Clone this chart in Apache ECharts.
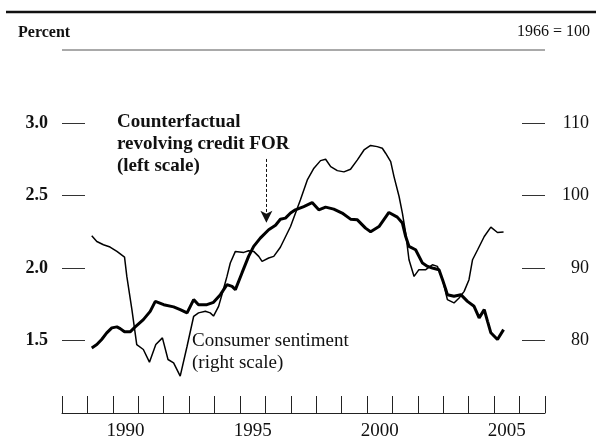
<!DOCTYPE html>
<html>
<head>
<meta charset="utf-8">
<script src="https://cdn.jsdelivr.net/npm/echarts@6/dist/echarts.min.js"></script>
<style>
html,body{margin:0;padding:0;background:#fff;}
#chart{width:596px;height:441px;}
</style>
</head>
<body>
<div id="chart"></div>
<script>
// Counterfactual revolving credit FOR (left scale, percent)
const forYears = [1989.17,1989.37,1989.56,1989.76,1989.96,1990.16,1990.29,1990.46,1990.68,1990.88,1991.20,1991.47,1991.67,1992.00,1992.39,1992.65,1992.92,1993.18,1993.37,1993.70,1993.96,1994.23,1994.49,1994.69,1994.82,1995.08,1995.34,1995.54,1995.80,1996.13,1996.40,1996.59,1996.79,1996.99,1997.18,1997.51,1997.84,1998.10,1998.37,1998.69,1999.02,1999.35,1999.62,1999.94,2000.14,2000.47,2000.86,2001.19,2001.39,2001.52,2001.65,2001.91,2002.18,2002.38,2002.57,2002.83,2002.97,2003.10,2003.16,2003.42,2003.69,2003.95,2004.21,2004.41,2004.61,2004.74,2004.87,2005.13,2005.37];
const forValues = [1.449,1.472,1.507,1.553,1.587,1.594,1.582,1.560,1.560,1.594,1.644,1.701,1.770,1.747,1.732,1.713,1.690,1.782,1.747,1.747,1.763,1.816,1.885,1.873,1.851,1.966,2.080,2.149,2.206,2.264,2.295,2.336,2.344,2.379,2.401,2.424,2.451,2.401,2.420,2.406,2.379,2.337,2.332,2.275,2.250,2.286,2.383,2.351,2.310,2.217,2.149,2.126,2.034,2.011,2.000,1.988,1.919,1.851,1.816,1.805,1.816,1.770,1.736,1.656,1.713,1.632,1.553,1.507,1.575];

// Consumer sentiment (right scale, 1966 = 100)
const sentYears = [1989.17,1989.37,1989.63,1989.89,1990.16,1990.46,1990.55,1990.75,1990.94,1991.20,1991.44,1991.69,1991.95,1992.17,1992.39,1992.65,1992.92,1993.18,1993.37,1993.64,1993.83,1993.96,1994.16,1994.29,1994.49,1994.62,1994.82,1995.15,1995.34,1995.54,1995.74,1995.87,1996.13,1996.33,1996.59,1996.99,1997.38,1997.65,1997.91,1998.17,1998.37,1998.57,1998.83,1999.09,1999.35,1999.62,1999.88,2000.14,2000.40,2000.60,2000.73,2000.93,2001.06,2001.26,2001.39,2001.52,2001.65,2001.85,2002.04,2002.31,2002.57,2002.77,2002.97,2003.16,2003.42,2003.62,2003.82,2004.01,2004.15,2004.35,2004.61,2004.87,2005.13,2005.37];
const sentValues = [94.45,93.66,93.21,92.89,92.29,91.51,88.84,84.26,79.44,78.76,77.01,79.44,80.36,77.38,76.92,75.08,79.21,83.34,83.81,84.03,83.81,83.37,84.71,86.32,88.84,90.69,92.29,92.15,92.38,92.29,91.60,90.91,91.38,91.60,92.86,95.73,99.40,102.15,103.76,104.81,105.00,103.98,103.43,103.26,103.63,104.91,106.28,106.90,106.74,106.52,105.83,104.67,102.61,99.86,97.57,94.82,91.14,88.84,89.77,89.77,90.45,90.22,88.39,85.64,85.18,85.87,86.78,88.39,91.14,92.52,94.35,95.64,94.90,94.96];

const yearTicks = [1988,1989,1990,1991,1992,1993,1994,1995,1996,1997,1998,1999,2000,2001,2002,2003,2004,2005,2006,2007];
const yearLabels = [1990,1995,2000,2005];
const leftTicks = [1.0,1.5,2.0,2.5,3.0];
const rightTicks = [70,80,90,100,110];

const SERIF = '"Liberation Serif","DejaVu Serif",serif';

const chart = echarts.init(document.getElementById('chart'), null, {renderer:'canvas'});

const zip = (xs, ys) => xs.map((x,i)=>[x, ys[i]]);

chart.setOption({
  animation: false,
  backgroundColor: '#fff',
  grid: {left: 62, right: 51, top: 123, bottom: 28, containLabel: false},
  xAxis: {
    type: 'value', min: 1988, max: 2007, interval: 1,
    splitLine: {show: false},
    axisLine: {show: true, lineStyle: {color: '#222', width: 1}},
    axisTick: {show: true, inside: true, length: 17, lineStyle: {color: '#222', width: 1},
               customValues: yearTicks},
    axisLabel: {show: true, customValues: yearLabels.map(y => y + 0.5),
                formatter: v => String(Math.floor(v)),
                fontFamily: SERIF, fontSize: 19, color: '#111', margin: 9}
  },
  yAxis: [
    {
      type: 'value', position: 'left', min: 1.0, max: 3.0, interval: 0.5,
      splitLine: {show: false},
      axisLine: {show: false},
      axisTick: {show: true, inside: true, length: 23, lineStyle: {color: '#333', width: 1}, customValues: leftTicks.slice(1)},
      axisLabel: {customValues: leftTicks.slice(1), formatter: v => v.toFixed(1),
                  fontFamily: SERIF, fontWeight: 'bold', fontSize: 18, color: '#111', margin: 14}
    },
    {
      type: 'value', position: 'right', min: 70, max: 110, interval: 10,
      splitLine: {show: false},
      axisLine: {show: false},
      axisTick: {show: true, inside: true, length: 23, lineStyle: {color: '#333', width: 1}, customValues: rightTicks.slice(1)},
      axisLabel: {customValues: rightTicks.slice(1), formatter: v => String(v), align: 'right',
                  fontFamily: SERIF, fontSize: 18, color: '#111', margin: 44}
    }
  ],
  series: [
    {
      name: 'Consumer sentiment', type: 'line', yAxisIndex: 1,
      data: zip(sentYears, sentValues), showSymbol: false, symbol: 'none',
      lineStyle: {color: '#000', width: 1.5}, z: 2
    },
    {
      name: 'Counterfactual revolving credit FOR', type: 'line', yAxisIndex: 0,
      data: zip(forYears, forValues), showSymbol: false, symbol: 'none',
      lineStyle: {color: '#000', width: 3}, z: 3,
      markLine: {
        silent: true, symbol: ['none', 'arrow'], symbolSize: [9, 12],
        label: {show: false},
        lineStyle: {color: '#111', type: [3, 2], width: 1},
        data: [[{coord: [1996.04, 2.752]}, {coord: [1996.04, 2.312]}]]
      }
    }
  ],
  graphic: [
    {type: 'line', shape: {x1: 6, y1: 12, x2: 596, y2: 12}, style: {stroke: '#111', lineWidth: 2.5}},
    {type: 'line', shape: {x1: 62, y1: 50, x2: 545, y2: 50}, style: {stroke: '#555', lineWidth: 1}},
    {type: 'text', left: 18, top: 25, style: {text: 'Percent', font: 'bold 16px ' + SERIF, fill: '#111'}},
    {type: 'text', right: 6, top: 24, style: {text: '1966 = 100', font: '16px ' + SERIF, fill: '#111'}},
    {type: 'text', left: 117, top: 111, style: {text: 'Counterfactual\nrevolving credit FOR\n(left scale)', font: 'bold 19px ' + SERIF, lineHeight: 22, fill: '#111'}},
    {type: 'text', left: 192, top: 330, style: {text: 'Consumer sentiment\n(right scale)', font: '19px ' + SERIF, lineHeight: 22, fill: '#111'}}
  ]
});
</script>
</body>
</html>
